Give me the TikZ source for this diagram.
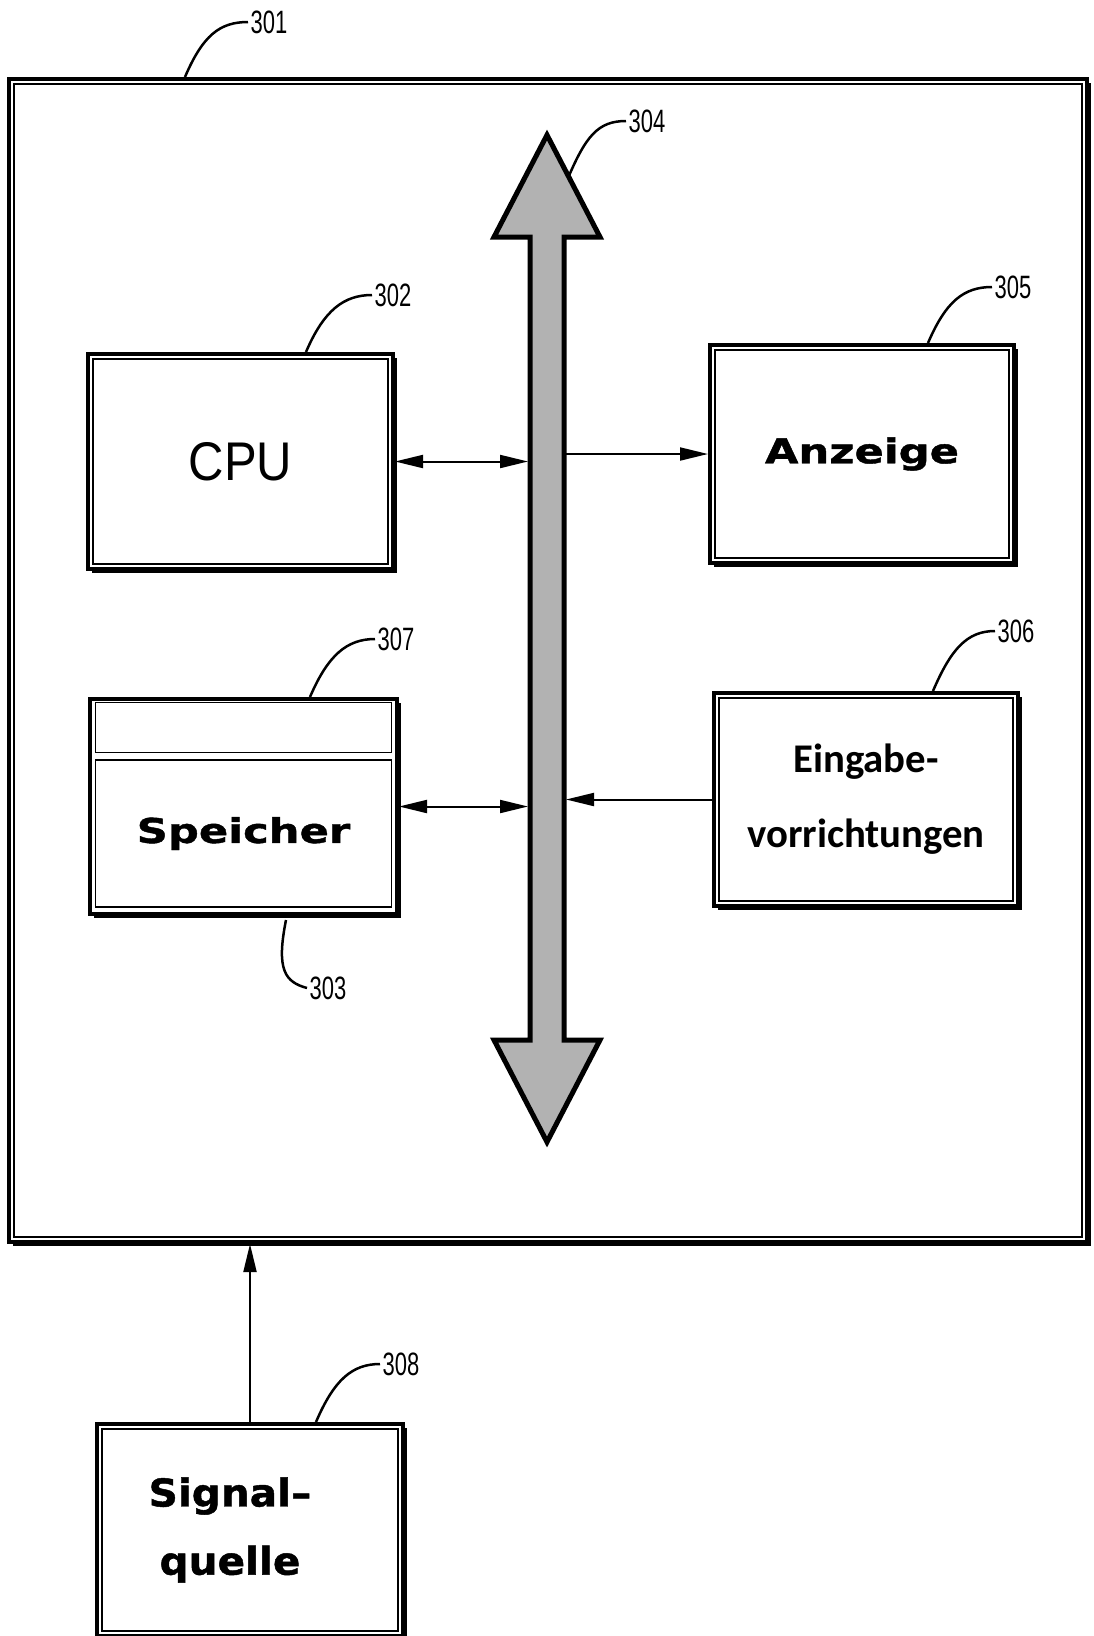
\documentclass[tikz,border=0pt]{standalone}
\usepackage{fontspec}
\setmainfont{Liberation Sans}
\newfontfamily\cpufont[FakeStretch=0.9]{Liberation Sans}
\newfontfamily\numfont[FakeStretch=0.68]{Liberation Sans}
\newfontfamily\widefont[FakeStretch=1.27, FakeBold=1.2]{DejaVu Sans}
\newfontfamily\sigfont[FakeStretch=1.06, FakeBold=1.2]{DejaVu Sans}
\newfontfamily\eingfont{Carlito}
\usetikzlibrary{arrows.meta,positioning,calc,shadows}
\tikzset{
  box/.style={draw, line width=0.4mm, fill=white, minimum width=3.05cm, minimum height=2.15cm, inner sep=0pt, align=center,
    drop shadow={shadow xshift=0.4mm, shadow yshift=-0.4mm, fill=black, opacity=1}},
  inbox/.style={draw, line width=0.15mm, inner sep=0pt},
  arr/.style={-{Triangle[length=2.8mm, width=1.3mm]}, line width=0.2mm},
  darr/.style={{Triangle[length=2.8mm, width=1.3mm]}-{Triangle[length=2.8mm, width=1.3mm]}, line width=0.2mm},
  num/.style={font=\numfont\fontsize{9.2}{10}\selectfont, inner sep=0.2mm, anchor=west},
  lead/.style={line width=0.25mm},
  widelbl/.style={font=\widefont\bfseries\fontsize{9.7}{12}\selectfont},
}

\begin{document}
\begin{tikzpicture}
  \path[use as bounding box, clip] (0,0) rectangle (10.93,-16.36);
  % frame 301
  \node[box, minimum width=10.78cm, minimum height=11.63cm] (sys) at (5.48,-6.605) {};
  % bus 304
  \draw[line width=0.5mm, fill=gray!60] (5.47,-1.35) -- (6.0,-2.37) -- (5.64,-2.37) -- (5.64,-10.40)
    -- (6.0,-10.40) -- (5.47,-11.42) -- (4.94,-10.40) -- (5.30,-10.40) -- (5.30,-2.37) -- (4.94,-2.37) -- cycle;
  \coordinate (bustip) at (5.47,-1.35);
  \coordinate (busW) at (5.28,-6);
  \coordinate (busE) at (5.66,-6);

  \node[box, font=\cpufont\fontsize{15.5}{18}\selectfont] (cpu) at (2.405,-4.615) {CPU};
  \node[box, widelbl, minimum width=3.04cm, minimum height=2.18cm] (anz) at (8.62,-4.54) {Anzeige};
  \node[box, minimum width=3.07cm] (sp) at (2.435,-8.065) {};
  \node[inbox, minimum width=2.96cm, minimum height=0.50cm] (cache) at (2.435,-7.275) {};
  \node[inbox, widelbl, minimum width=2.96cm, minimum height=1.47cm] (mem) at (2.435,-8.335) {Speicher};
  \node[box, font=\eingfont\bfseries\fontsize{11.6}{21.3}\selectfont, minimum width=3.04cm, minimum height=2.13cm] (eing) at (8.66,-7.995) {Eingabe-\\vorrichtungen};
  \node[box, font=\sigfont\bfseries\fontsize{10.9}{19.4}\selectfont, minimum width=3.06cm, minimum height=2.12cm] (sq) at (2.50,-15.30) {Signal–\makebox[0.4cm]{}\\quelle\makebox[0.4cm]{}};

  \foreach \n in {sys,cpu,anz,eing,sq}
    \draw[line width=0.15mm] ([shift={(0.07,-0.07)}]\n.north west) rectangle ([shift={(-0.07,0.07)}]\n.south east);

  \draw[darr] (cpu.east) -- (cpu.east -| busW);
  \draw[arr] (anz.west -| busE) -- (anz.west);
  \draw[darr] (sp.east) -- (sp.east -| busW);
  \draw[arr] (eing.west) -- (eing.west -| busE);
  \draw[arr] (sq.north) -- (sq.north |- sys.south);

  % reference numerals
  \node[num] (n301) at (2.48,-0.22) {301};
  \node[num] (n302) at (3.72,-2.95) {302};
  \node[num] (n304) at (6.26,-1.21) {304};
  \node[num] (n305) at (9.92,-2.87) {305};
  \node[num] (n306) at (9.95,-6.31) {306};
  \node[num] (n307) at (3.75,-6.39) {307};
  \node[num] (n303) at (3.07,-9.88) {303};
  \node[num] (n308) at (3.80,-13.64) {308};

  \draw[lead] ([xshift=1.78cm]sys.north west) .. controls +(0.18,0.42) and +(-0.28,0) .. (n301.west);
  \draw[lead] ([xshift=2.2cm]cpu.north west) .. controls +(0.18,0.42) and +(-0.28,0) .. (n302.west);
  \draw[lead] ([shift={(0.21,-0.43)}]bustip) .. controls +(0.18,0.42) and +(-0.28,0) .. (n304.west);
  \draw[lead] ([xshift=2.2cm]anz.north west) .. controls +(0.18,0.42) and +(-0.28,0) .. (n305.west);
  \draw[lead] ([xshift=2.21cm]eing.north west) .. controls +(0.18,0.42) and +(-0.28,0) .. (n306.west);
  \draw[lead] ([xshift=2.22cm]sp.north west) .. controls +(0.18,0.42) and +(-0.28,0) .. (n307.west);
  \draw[lead] ([shift={(1.98,-0.04)}]sp.south west) .. controls +(-0.1,-0.5) and +(-0.22,0.06) .. (n303.west);
  \draw[lead] ([xshift=2.21cm]sq.north west) .. controls +(0.18,0.42) and +(-0.28,0) .. (n308.west);
\end{tikzpicture}
\end{document}
